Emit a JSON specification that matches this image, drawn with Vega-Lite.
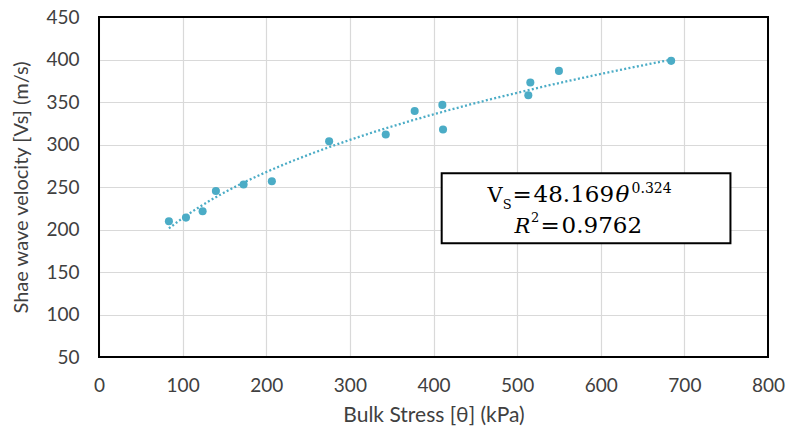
{
  "$schema": "https://vega.github.io/schema/vega-lite/v6.json",
  "width": 669,
  "height": 340,
  "autosize": {"type": "none"},
  "padding": {"left": 99, "top": 17, "right": 19, "bottom": 79},
  "background": "white",
  "config": {
    "view": {"stroke": null},
    "font": "Lato",
    "axis": {
      "grid": true,
      "gridColor": "#d9d9d9",
      "gridWidth": 1.2,
      "ticks": false,
      "domain": false,
      "labelFont": "Lato",
      "labelFontSize": 19,
      "labelColor": "#404040",
      "labelFlush": false,
      "titleFont": "Lato",
      "titleFontSize": 20,
      "titleFontWeight": "normal",
      "titleColor": "#404040"
    }
  },
  "data": {
    "values": [
      {"x": 83.6, "y": 209.8},
      {"x": 104, "y": 214},
      {"x": 123.9, "y": 221.5},
      {"x": 139.8, "y": 245.4},
      {"x": 172.9, "y": 253},
      {"x": 206.7, "y": 256.8},
      {"x": 275.2, "y": 303.9},
      {"x": 342.9, "y": 311.8},
      {"x": 377.5, "y": 339.5},
      {"x": 410.6, "y": 346.6},
      {"x": 411.4, "y": 317.6},
      {"x": 513.4, "y": 358},
      {"x": 515.8, "y": 372.9},
      {"x": 550, "y": 386.6},
      {"x": 684.2, "y": 398.4}
    ]
  },
  "layer": [
    {
      "transform": [{"regression": "y", "on": "x", "method": "pow"}],
      "mark": {"type": "line", "color": "#4bacc6", "strokeWidth": 2.3, "strokeDash": [2, 2.3]},
      "encoding": {
        "x": {"field": "x", "type": "quantitative", "title": "Bulk Stress [θ] (kPa)"},
        "y": {"field": "y", "type": "quantitative", "title": "Shae wave velocity [Vs] (m/s)"}
      }
    },
    {
      "mark": {"type": "circle", "color": "#4bacc6", "opacity": 1, "size": 65},
      "encoding": {
        "x": {
          "field": "x", "type": "quantitative",
          "scale": {"domain": [0, 800], "nice": false, "zero": false},
          "axis": {"values": [0, 100, 200, 300, 400, 500, 600, 700, 800], "labelPadding": 19, "titlePadding": 9, "titleFontSize": 21},
          "title": "Bulk Stress [θ] (kPa)"
        },
        "y": {
          "field": "y", "type": "quantitative",
          "scale": {"domain": [50, 450], "nice": false, "zero": false},
          "axis": {"values": [50, 100, 150, 200, 250, 300, 350, 400, 450], "labelPadding": 20, "titlePadding": 14},
          "title": "Shae wave velocity [Vs] (m/s)"
        }
      }
    },
    {
      "data": {"values": [{}]},
      "mark": {"type": "rect", "fillOpacity": 0, "stroke": "black", "strokeWidth": 2},
      "encoding": {
        "x": {"datum": 0, "type": "quantitative"},
        "x2": {"datum": 800},
        "y": {"datum": 50, "type": "quantitative"},
        "y2": {"datum": 450}
      }
    },
    {
      "data": {"values": [{}]},
      "mark": {"type": "rect", "fill": "white", "stroke": "black", "strokeWidth": 2},
      "encoding": {
        "x": {"datum": 409.8, "type": "quantitative"},
        "x2": {"datum": 755.1},
        "y": {"datum": 266.2, "type": "quantitative"},
        "y2": {"datum": 183.9}
      }
    },
    {
      "data": {"values": [{"t": "V", "px": 464.7, "py": 232.5}]},
      "mark": {"type": "text", "font": "DejaVu Serif", "fontSize": 21, "align": "left", "baseline": "alphabetic", "color": "black"},
      "encoding": {"x": {"field": "px", "type": "quantitative"}, "y": {"field": "py", "type": "quantitative"}, "text": {"field": "t"}}
    },
    {
      "data": {"values": [{"t": "S", "px": 482.7, "py": 224.7}]},
      "mark": {"type": "text", "font": "DejaVu Serif", "fontSize": 13, "align": "left", "baseline": "alphabetic", "color": "black"},
      "encoding": {"x": {"field": "px", "type": "quantitative"}, "y": {"field": "py", "type": "quantitative"}, "text": {"field": "t"}}
    },
    {
      "data": {"values": [{"t": "=", "px": 494.6, "py": 232.5}]},
      "mark": {"type": "text", "font": "DejaVu Serif", "fontSize": 23, "align": "left", "baseline": "alphabetic", "color": "black"},
      "encoding": {"x": {"field": "px", "type": "quantitative"}, "y": {"field": "py", "type": "quantitative"}, "text": {"field": "t"}}
    },
    {
      "data": {"values": [{"t": "48.169", "px": 519.7, "py": 232.5}]},
      "mark": {"type": "text", "font": "DejaVu Serif", "fontSize": 23, "align": "left", "baseline": "alphabetic", "color": "black"},
      "encoding": {"x": {"field": "px", "type": "quantitative"}, "y": {"field": "py", "type": "quantitative"}, "text": {"field": "t"}}
    },
    {
      "data": {"values": [{"t": "θ", "px": 617.7, "py": 232.5}]},
      "mark": {"type": "text", "font": "DejaVu Serif", "fontSize": 23, "fontStyle": "italic", "align": "left", "baseline": "alphabetic", "color": "black"},
      "encoding": {"x": {"field": "px", "type": "quantitative"}, "y": {"field": "py", "type": "quantitative"}, "text": {"field": "t"}}
    },
    {
      "data": {"values": [{"t": "0.324", "px": 636.8, "py": 242.7}]},
      "mark": {"type": "text", "font": "DejaVu Serif", "fontSize": 14, "align": "left", "baseline": "alphabetic", "color": "black"},
      "encoding": {"x": {"field": "px", "type": "quantitative"}, "y": {"field": "py", "type": "quantitative"}, "text": {"field": "t"}}
    },
    {
      "data": {"values": [{"t": "R", "px": 497.0, "py": 196}]},
      "mark": {"type": "text", "font": "DejaVu Serif", "fontSize": 21, "fontStyle": "italic", "align": "left", "baseline": "alphabetic", "color": "black"},
      "encoding": {"x": {"field": "px", "type": "quantitative"}, "y": {"field": "py", "type": "quantitative"}, "text": {"field": "t"}}
    },
    {
      "data": {"values": [{"t": "2", "px": 516.7, "py": 209}]},
      "mark": {"type": "text", "font": "DejaVu Serif", "fontSize": 13, "align": "left", "baseline": "alphabetic", "color": "black"},
      "encoding": {"x": {"field": "px", "type": "quantitative"}, "y": {"field": "py", "type": "quantitative"}, "text": {"field": "t"}}
    },
    {
      "data": {"values": [{"t": "=", "px": 528.1, "py": 196}]},
      "mark": {"type": "text", "font": "DejaVu Serif", "fontSize": 23, "align": "left", "baseline": "alphabetic", "color": "black"},
      "encoding": {"x": {"field": "px", "type": "quantitative"}, "y": {"field": "py", "type": "quantitative"}, "text": {"field": "t"}}
    },
    {
      "data": {"values": [{"t": "0.9762", "px": 553.2, "py": 196}]},
      "mark": {"type": "text", "font": "DejaVu Serif", "fontSize": 23, "align": "left", "baseline": "alphabetic", "color": "black"},
      "encoding": {"x": {"field": "px", "type": "quantitative"}, "y": {"field": "py", "type": "quantitative"}, "text": {"field": "t"}}
    }
  ]
}
